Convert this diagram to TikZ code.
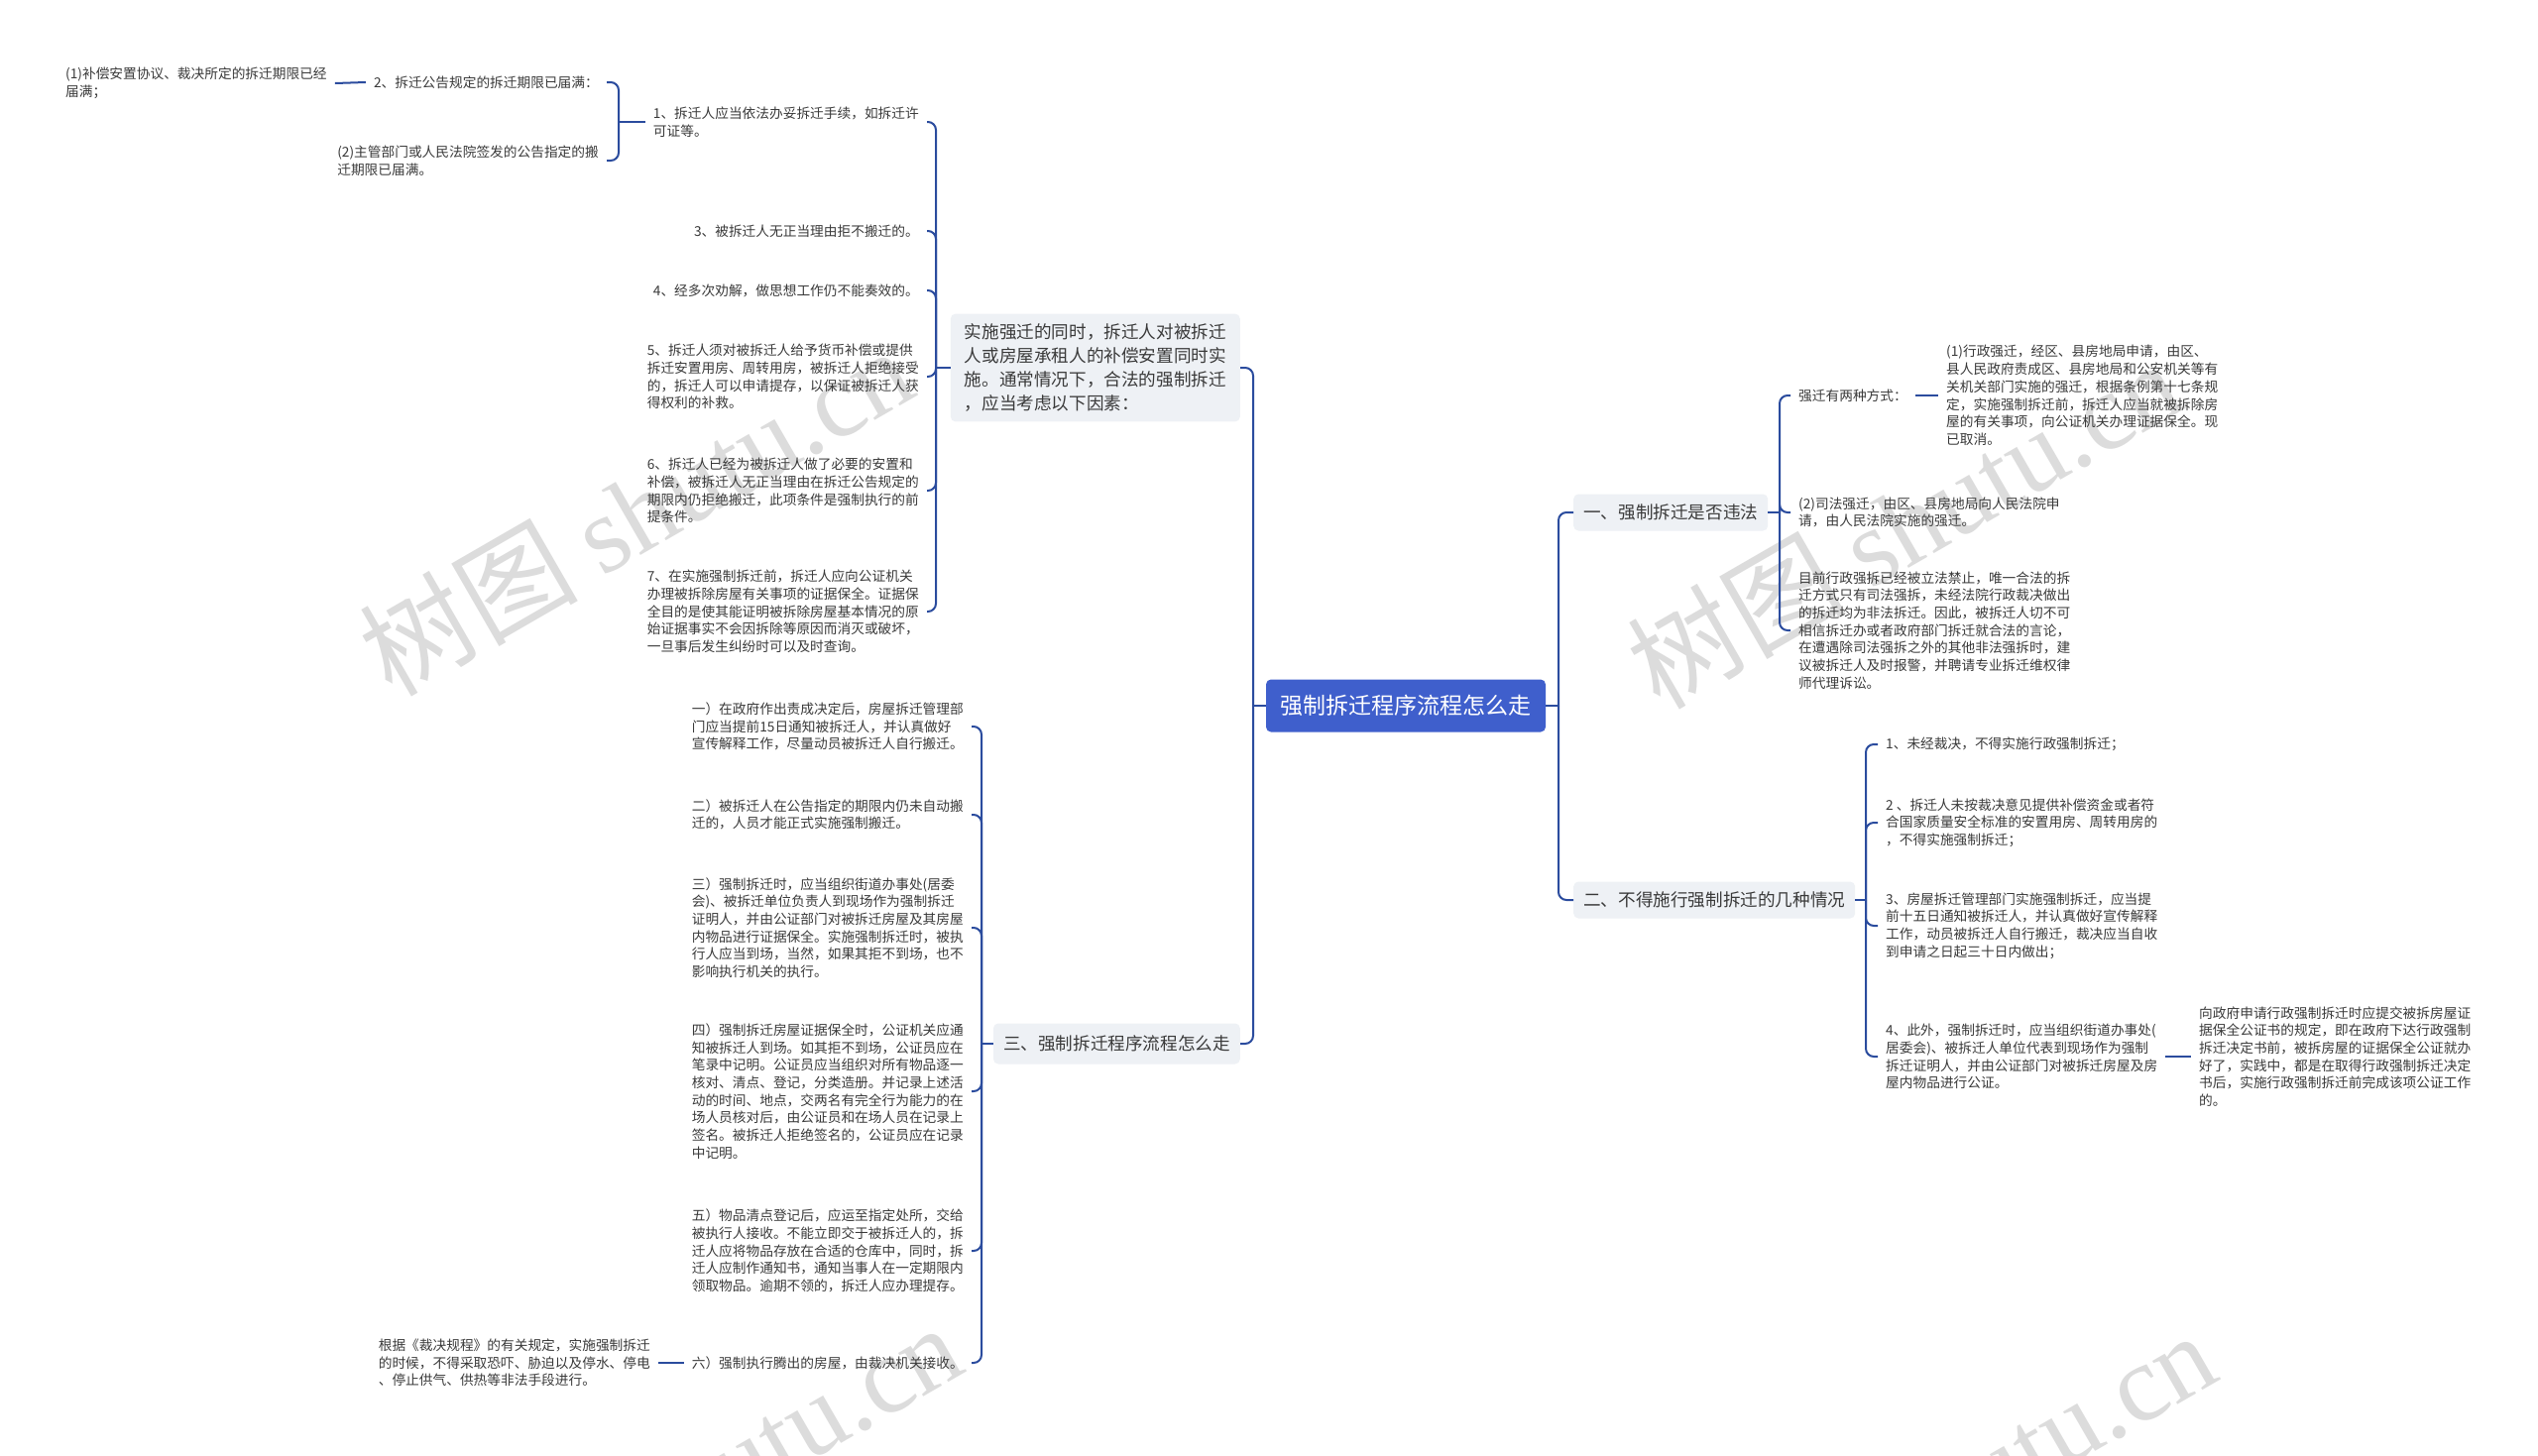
\documentclass[tikz,border=0pt]{standalone}
\usepackage{fontspec}
\setmainfont{Noto Sans CJK SC}
\newfontfamily\wmserif{Liberation Serif}
\definecolor{lnc}{HTML}{2B4C9E}
\definecolor{rootfill}{HTML}{3F5FCC}
\definecolor{secfill}{HTML}{EEF1F5}
\definecolor{txt}{HTML}{3A3A3A}
\definecolor{wmc}{HTML}{DCDCDC}
\begin{document}
\begin{tikzpicture}[x=1pt,y=-1pt,
  leaf/.style={font=\fontsize{13.7}{17.7}\selectfont, text=txt, align=left, inner xsep=8pt, inner ysep=2pt},
  sec/.style={fill=secfill, rounded corners=5pt, font=\fontsize{17.6}{24}\selectfont, text=txt, align=left, inner xsep=10pt, minimum height=37pt},
  rootn/.style={fill=rootfill, rounded corners=5pt, text=white, font=\fontsize{23}{28}\selectfont, minimum width=282pt, minimum height=53pt},
  link/.style={draw=lnc, line width=2pt, rounded corners=8pt},
  wm/.style={text=wmc, font=\fontsize{110}{120}\selectfont, rotate=30}]
\useasboundingbox (0,0) rectangle (2560,1468);
\fill[white] (0,0) rectangle (2560,1468);
% watermarks
\begin{scope}
\clip (0,0) rectangle (2560,1468);
\node[wm] (wm1) at (641,515) {树图 {\wmserif shutu.cn}};
\node[wm] (wm2) at (1920,528) {树图 {\wmserif shutu.cn}};
\node[wm] (wm3) at (690,1500) {树图 {\wmserif shutu.cn}};
\node[wm] (wm4) at (1955,1508) {树图 {\wmserif shutu.cn}};
\end{scope}

% root
\node[rootn] (root) at (1418,712) {强制拆迁程序流程怎么走};

% left main
\node[sec, anchor=east, inner xsep=14pt, inner ysep=10pt] (A) at (1251,371) {实施强迁的同时，拆迁人对被拆迁\\人或房屋承租人的补偿安置同时实\\施。通常情况下，合法的强制拆迁\\，应当考虑以下因素：};
\node[sec, anchor=east, minimum height=41pt] (B) at (1251,1053) {三、强制拆迁程序流程怎么走};

% right main
\node[sec, anchor=west] (C1) at (1587,517) {一、强制拆迁是否违法};
\node[sec, anchor=west] (C2) at (1587,908) {二、不得施行强制拆迁的几种情况};

% children of A
\node[leaf, anchor=east] (L1) at (935,123) {1、拆迁人应当依法办妥拆迁手续，如拆迁许\\可证等。};
\node[leaf, anchor=east] (L3) at (935,233) {3、被拆迁人无正当理由拒不搬迁的。};
\node[leaf, anchor=east] (L4) at (935,293) {4、经多次劝解，做思想工作仍不能奏效的。};
\node[leaf, anchor=east] (L5) at (935,380) {5、拆迁人须对被拆迁人给予货币补偿或提供\\拆迁安置用房、周转用房，被拆迁人拒绝接受\\的，拆迁人可以申请提存，以保证被拆迁人获\\得权利的补救。};
\node[leaf, anchor=east] (L6) at (935,495) {6、拆迁人已经为被拆迁人做了必要的安置和\\补偿，被拆迁人无正当理由在拆迁公告规定的\\期限内仍拒绝搬迁，此项条件是强制执行的前\\提条件。};
\node[leaf, anchor=east] (L7) at (935,617) {7、在实施强制拆迁前，拆迁人应向公证机关\\办理被拆除房屋有关事项的证据保全。证据保\\全目的是使其能证明被拆除房屋基本情况的原\\始证据事实不会因拆除等原因而消灭或破坏，\\一旦事后发生纠纷时可以及时查询。};

% children of L1
\node[leaf, anchor=east] (L1a) at (612,83) {2、拆迁公告规定的拆迁期限已届满：};
\node[leaf, anchor=east] (L1b) at (612,162) {(2)主管部门或人民法院签发的公告指定的搬\\迁期限已届满。};
\node[leaf, anchor=west] (L1aa) at (58,84) {(1)补偿安置协议、裁决所定的拆迁期限已经\\届满；};

% children of B
\node[leaf, anchor=east] (M1) at (980,733) {一）在政府作出责成决定后，房屋拆迁管理部\\门应当提前15日通知被拆迁人，并认真做好\\宣传解释工作，尽量动员被拆迁人自行搬迁。};
\node[leaf, anchor=east] (M2) at (980,822) {二）被拆迁人在公告指定的期限内仍未自动搬\\迁的，人员才能正式实施强制搬迁。};
\node[leaf, anchor=east] (M3) at (980,936) {三）强制拆迁时，应当组织街道办事处(居委\\会)、被拆迁单位负责人到现场作为强制拆迁\\证明人，并由公证部门对被拆迁房屋及其房屋\\内物品进行证据保全。实施强制拆迁时，被执\\行人应当到场，当然，如果其拒不到场，也不\\影响执行机关的执行。};
\node[leaf, anchor=east] (M4) at (980,1101) {四）强制拆迁房屋证据保全时，公证机关应通\\知被拆迁人到场。如其拒不到场，公证员应在\\笔录中记明。公证员应当组织对所有物品逐一\\核对、清点、登记，分类造册。并记录上述活\\动的时间、地点，交两名有完全行为能力的在\\场人员核对后，由公证员和在场人员在记录上\\签名。被拆迁人拒绝签名的，公证员应在记录\\中记明。};
\node[leaf, anchor=east] (M5) at (980,1262) {五）物品清点登记后，应运至指定处所，交给\\被执行人接收。不能立即交于被拆迁人的，拆\\迁人应将物品存放在合适的仓库中，同时，拆\\迁人应制作通知书，通知当事人在一定期限内\\领取物品。逾期不领的，拆迁人应办理提存。};
\node[leaf, anchor=east] (M6) at (980,1375) {六）强制执行腾出的房屋，由裁决机关接收。};
\node[leaf, anchor=east] (M6a) at (664,1375) {根据《裁决规程》的有关规定，实施强制拆迁\\的时候，不得采取恐吓、胁迫以及停水、停电\\、停止供气、供热等非法手段进行。};

% children of C1
\node[leaf, anchor=west] (R1) at (1806,399) {强迁有两种方式：};
\node[leaf, anchor=west] (R1a) at (1955,399) {(1)行政强迁，经区、县房地局申请，由区、\\县人民政府责成区、县房地局和公安机关等有\\关机关部门实施的强迁，根据条例第十七条规\\定，实施强制拆迁前，拆迁人应当就被拆除房\\屋的有关事项，向公证机关办理证据保全。现\\已取消。};
\node[leaf, anchor=west] (R2) at (1806,517) {(2)司法强迁，由区、县房地局向人民法院申\\请，由人民法院实施的强迁。};
\node[leaf, anchor=west] (R3) at (1806,636) {目前行政强拆已经被立法禁止，唯一合法的拆\\迁方式只有司法强拆，未经法院行政裁决做出\\的拆迁均为非法拆迁。因此，被拆迁人切不可\\相信拆迁办或者政府部门拆迁就合法的言论，\\在遭遇除司法强拆之外的其他非法强拆时，建\\议被拆迁人及时报警，并聘请专业拆迁维权律\\师代理诉讼。};

% children of C2
\node[leaf, anchor=west] (S1) at (1894,751) {1、未经裁决，不得实施行政强制拆迁；};
\node[leaf, anchor=west] (S2) at (1894,830) {2 、拆迁人未按裁决意见提供补偿资金或者符\\合国家质量安全标准的安置用房、周转用房的\\，不得实施强制拆迁；};
\node[leaf, anchor=west] (S3) at (1894,934) {3、房屋拆迁管理部门实施强制拆迁，应当提\\前十五日通知被拆迁人，并认真做好宣传解释\\工作，动员被拆迁人自行搬迁，裁决应当自收\\到申请之日起三十日内做出；};
\node[leaf, anchor=west] (S4) at (1894,1066) {4、此外，强制拆迁时，应当组织街道办事处(\\居委会)、被拆迁人单位代表到现场作为强制\\拆迁证明人，并由公证部门对被拆迁房屋及房\\屋内物品进行公证。};
\node[leaf, anchor=west] (S4a) at (2210,1066) {向政府申请行政强制拆迁时应提交被拆房屋证\\据保全公证书的规定，即在政府下达行政强制\\拆迁决定书前，被拆房屋的证据保全公证就办\\好了，实践中，都是在取得行政强制拆迁决定\\书后，实施行政强制拆迁前完成该项公证工作\\的。};

% spine coordinates
\coordinate (s0) at (1264,712);
\coordinate (sR) at (1572,712);
\coordinate (sA) at (944,371);
\coordinate (sL1) at (624,123);
\coordinate (sB) at (990,1053);
\coordinate (sC1) at (1795,517);
\coordinate (sC2) at (1882,908);

% connectors
\draw[link] (root.west) -- (s0);
\draw[link] (s0) |- (A.east);
\draw[link] (s0) |- (B.east);
\draw[link] (root.east) -- (sR);
\draw[link] (sR) |- (C1.west);
\draw[link] (sR) |- (C2.west);

\draw[link] (A.west) -- (sA);
\foreach \n in {L1,L3,L4,L5,L6,L7} \draw[link] (sA) |- (\n.east);
\draw[link] (L1.west) -- (sL1);
\foreach \n in {L1a,L1b} \draw[link] (sL1) |- (\n.east);
\draw[link] (L1a.west) -- (L1aa.east);

\draw[link] (B.west) -- (sB);
\foreach \n in {M1,M2,M3,M4,M5,M6} \draw[link] (sB) |- (\n.east);
\draw[link] (M6.west) -- (M6a.east);

\draw[link] (C1.east) -- (sC1);
\foreach \n in {R1,R2,R3} \draw[link] (sC1) |- (\n.west);
\draw[link] (R1.east) -- (R1a.west);

\draw[link] (C2.east) -- (sC2);
\foreach \n in {S1,S2,S3,S4} \draw[link] (sC2) |- (\n.west);
\draw[link] (S4.east) -- (S4a.west);
\end{tikzpicture}
\end{document}
